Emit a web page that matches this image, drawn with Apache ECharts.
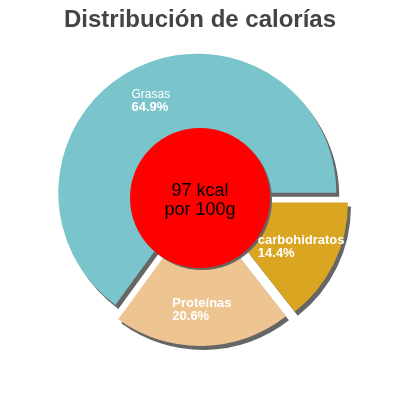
<!DOCTYPE html>
<html lang="es">
<head>
    <meta charset="UTF-8">
    <title>Distribución de calorías</title>
    <script src="https://cdn.jsdelivr.net/npm/echarts@6/dist/echarts.min.js"></script>
    <style>
        html, body { margin: 0; padding: 0; background: #fff; }
        #chart { width: 400px; height: 400px; }
    </style>
</head>
<body>
<div id="chart"></div>
<script>
  // data (clockwise from 3 o'clock)
  var NAMES = ['carbohidratos', 'Proteínas', 'Grasas'];
  var PERCENT = [14.4, 20.6, 64.9];
  var KCAL = 97;
  var KCAL_UNIT = 'por 100g';

  var COLORS = ['#daa520', '#eec591', '#7ac4cc'];
  var OFFSETS = [10, 9, 6];       // how far each slice is pulled out
  var NAME_SIZE = [13, 13, 12];
  var BOLD = [true, true, false];

  var CENTER = ['50%', 198];
  var SHADOW = { shadowColor: '#666', shadowBlur: 0, shadowOffsetX: 3, shadowOffsetY: 4 };
  var FONT = 'Liberation Sans, Arial, sans-serif';

  var myChart = echarts.init(document.getElementById('chart'));

  // one pie per slice so each slice can have its own offset
  var series = NAMES.map(function (name, i) {
    return {
      type: 'pie',
      silent: true,
      animation: false,
      center: CENTER,
      radius: [60, 139],
      startAngle: 0,
      clockwise: true,
      selectedMode: 'multiple',
      selectedOffset: OFFSETS[i],
      avoidLabelOverlap: false,
      labelLine: { show: false },
      emphasis: { disabled: true },
      data: NAMES.map(function (n, j) {
        if (j !== i) {
          return {
            name: n, value: PERCENT[j],
            itemStyle: { color: 'rgba(0,0,0,0)' },
            label: { show: false }
          };
        }
        return {
          name: n, value: PERCENT[j], selected: true,
          itemStyle: Object.assign({ color: COLORS[j] }, SHADOW),
          label: {
            show: true,
            position: 'inside',
            formatter: '{n|' + n + '}\n{p|' + PERCENT[j].toFixed(1) + '%}',
            rich: {
              n: { color: '#fff', fontSize: NAME_SIZE[j], lineHeight: 13, align: 'left',
                   fontFamily: FONT, fontWeight: BOLD[j] ? 'bold' : 'normal' },
              p: { color: '#fff', fontSize: 13, lineHeight: 13, align: 'left',
                   fontFamily: FONT, fontWeight: 'bold' }
            }
          }
        };
      })
    };
  });

  // red disc in the middle with the energy value
  series.push({
    type: 'pie',
    silent: true,
    animation: false,
    center: CENTER,
    radius: [0, 70],
    labelLine: { show: false },
    emphasis: { disabled: true },
    itemStyle: { color: '#ff0000', shadowColor: '#666', shadowBlur: 0, shadowOffsetX: 2, shadowOffsetY: 2 },
    label: {
      show: true,
      position: 'center',
      formatter: KCAL + ' kcal\n' + KCAL_UNIT,
      color: '#000',
      fontSize: 18,
      lineHeight: 19,
      offset: [0, 3],
      fontFamily: FONT
    },
    data: [{ name: 'kcal', value: KCAL }]
  });

  myChart.setOption({
    animation: false,
    title: {
      text: 'Distribución de calorías',
      left: 'center',
      top: 3,
      textStyle: {
        color: '#444',
        fontSize: 24,
        fontWeight: 'bold',
        fontFamily: FONT
      }
    },
    series: series
  });
</script>
</body>
</html>
